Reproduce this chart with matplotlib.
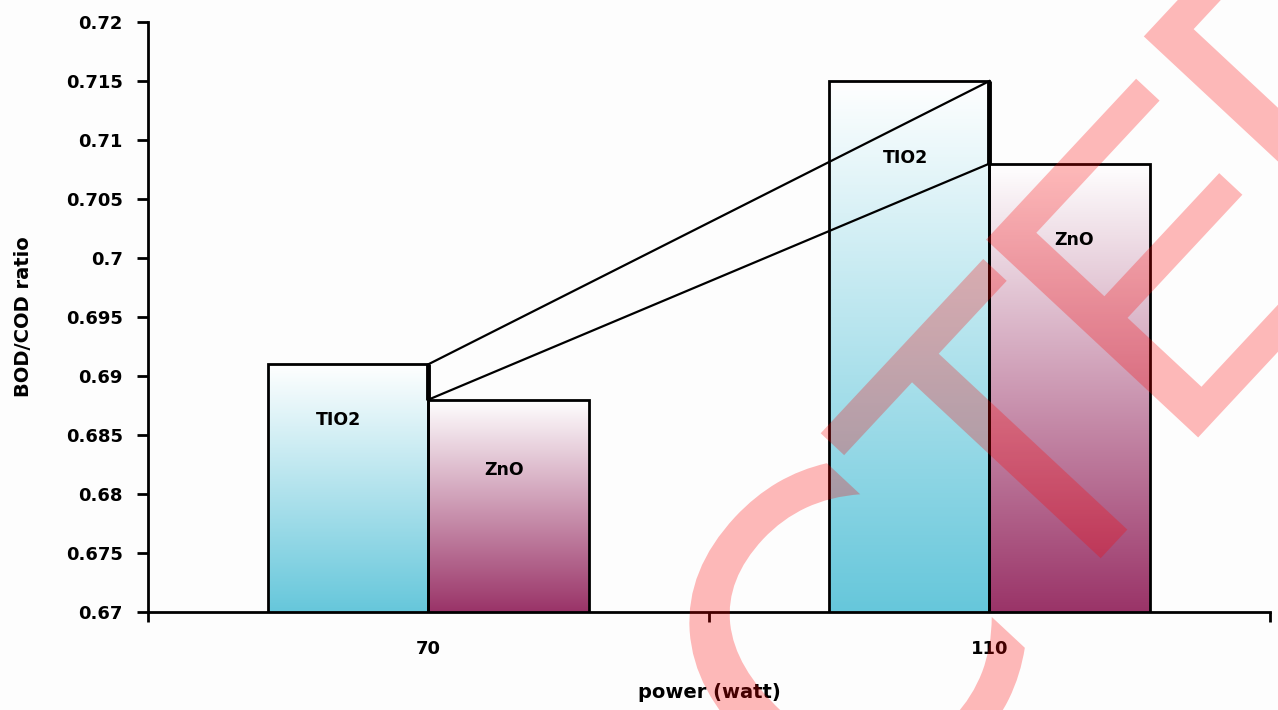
import numpy as np
import matplotlib.pyplot as plt
from matplotlib.colors import LinearSegmentedColormap
from matplotlib.textpath import TextPath
from matplotlib.font_manager import FontProperties
from matplotlib.patches import PathPatch
from matplotlib.transforms import Affine2D, IdentityTransform

# --- data ---
powers = ['70', '110']
tio2 = [0.691, 0.715]
zno = [0.688, 0.708]
y_ticks = [0.67, 0.675, 0.68, 0.685, 0.69, 0.695, 0.70, 0.705, 0.71, 0.715, 0.72]

y_min, y_max = 0.67, 0.72
bar_w = 0.286
W, H = 1278, 710

fig = plt.figure(figsize=(W / 100, H / 100), dpi=100, facecolor='#fdfdfd')
ax = fig.add_axes([0.1158, 0.138, 0.8779, 0.831])
ax.set_facecolor('#fdfdfd')

x = np.arange(len(powers))


def gradient_bars(xpos, vals, bottom_col):
    bars = ax.bar(xpos, vals, bar_w, facecolor='none', edgecolor='black',
                  linewidth=2, zorder=3)
    cmap = LinearSegmentedColormap.from_list('g', [bottom_col, '#ffffff'])
    grad = np.linspace(0, 1, 256).reshape(-1, 1)
    for b in bars:
        bx = b.get_x()
        im = ax.imshow(grad, cmap=cmap, origin='lower', aspect='auto',
                       extent=[bx, bx + b.get_width(), y_min, b.get_height()],
                       zorder=2)
        im.set_clip_path(b)
    return bars


gradient_bars(x - bar_w / 2, tio2, '#66c7db')
gradient_bars(x + bar_w / 2, zno, '#9a3468')

# series lines joining the bar tops
ax.plot(x, tio2, color='black', lw=1.6, zorder=4)
ax.plot(x, zno, color='black', lw=1.6, zorder=4)
ax.vlines(x, zno, tio2, color='black', lw=3.5, zorder=4)

# labels inside bars
txt = dict(fontsize=12.5, fontweight='bold', ha='center', va='center', zorder=5)
ax.text(-0.16, 0.6863, 'TIO2', **txt)
ax.text(0.134, 0.682, 'ZnO', **txt)
ax.text(0.85, 0.7085, 'TIO2', **txt)
ax.text(1.15, 0.7015, 'ZnO', **txt)

ax.set_xlim(-0.5, 1.5)
ax.set_ylim(y_min, y_max)
ax.set_yticks(y_ticks)
ax.set_yticklabels([f'{v:g}' for v in y_ticks])
ax.set_xticks(x)
ax.set_xticklabels(powers)
ax.set_xticks([-0.5, 0.5, 1.5], minor=True)
ax.tick_params(axis='x', which='major', length=0, pad=20, labelsize=13)
ax.tick_params(axis='x', which='minor', length=7, width=2, direction='out')
ax.tick_params(axis='y', length=8, width=2, pad=10, labelsize=13)
for lab in ax.get_xticklabels() + ax.get_yticklabels():
    lab.set_fontweight('bold')

for s in ['top', 'right']:
    ax.spines[s].set_visible(False)
for s in ['left', 'bottom']:
    ax.spines[s].set_linewidth(2)

ax.set_ylabel('BOD/COD ratio', fontsize=14, fontweight='bold', labelpad=24)
ax.set_xlabel('power (watt)', fontsize=14, fontweight='bold', labelpad=18)


# watermark "RETRACTED" (only the tail C-T-E-D falls inside the picture)
def stamp(letter, cx, cy, height, family):
    prop = FontProperties(family=family)
    tp = TextPath((0, 0), letter, size=1, prop=prop)
    ext = tp.get_extents()
    cap = TextPath((0, 0), 'E', size=1, prop=prop).get_extents().height
    s = height / cap
    tr = (Affine2D().translate(-(ext.x0 + ext.x1) / 2, -(ext.y0 + ext.y1) / 2)
          .scale(s).rotate_deg(47).translate(cx, H - cy))
    fig.add_artist(PathPatch(tr.transform_path(tp), facecolor='red',
                             edgecolor='none', alpha=0.27,
                             transform=IdentityTransform(), zorder=10))


stamp('C', 838, 650, 320, 'DejaVu Sans')
stamp('T', 1008, 445, 290, 'Liberation Sans')
stamp('E', 1170, 255, 290, 'Liberation Sans')
stamp('D', 1335, 44, 290, 'Liberation Sans')

fig.savefig('out.png', dpi=100, facecolor=fig.get_facecolor())
